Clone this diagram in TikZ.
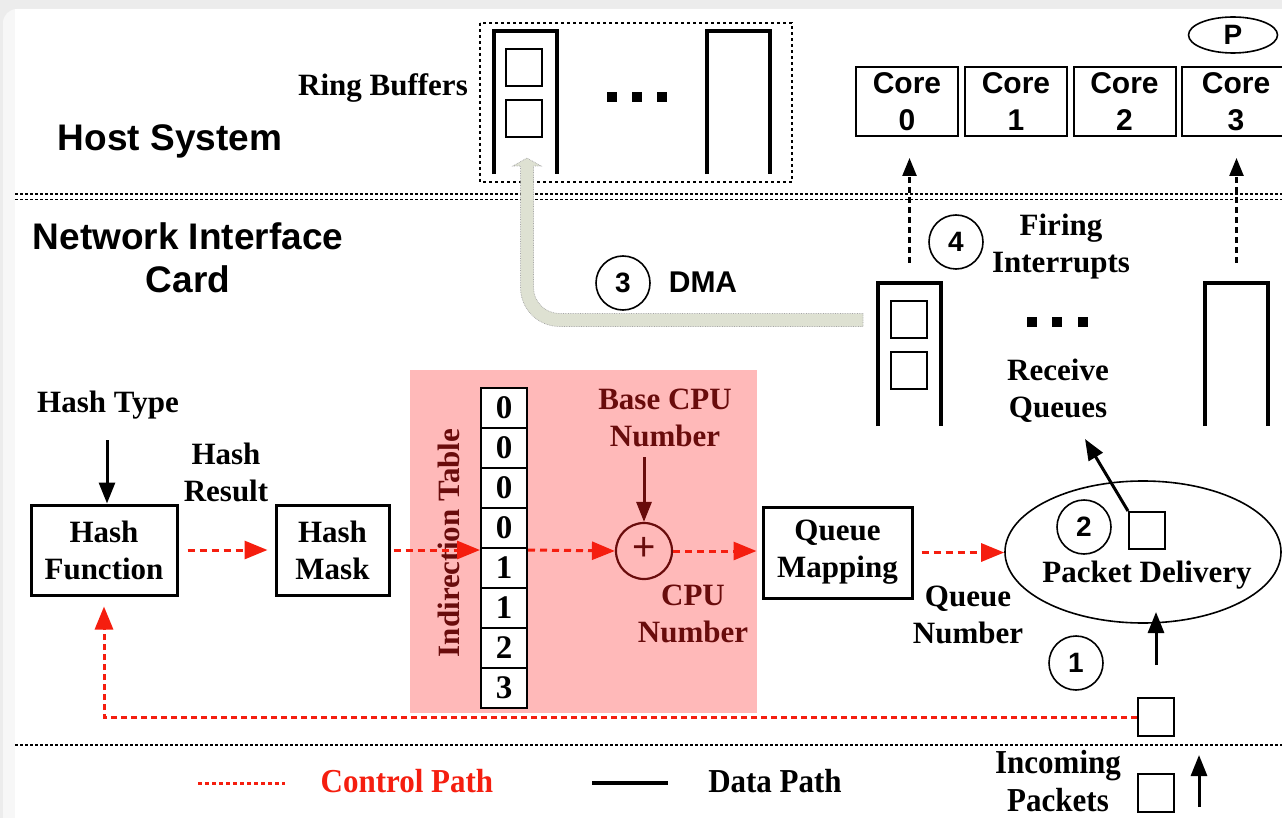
\documentclass[tikz,border=0pt]{standalone}
\usepackage{fontspec}
\setmainfont{Liberation Serif}
\setsansfont{Liberation Sans}
\usetikzlibrary{shapes.geometric,arrows.meta}
\definecolor{ctrlred}{RGB}{245,30,15}
\definecolor{darkred}{RGB}{105,12,12}
\definecolor{pinkbg}{RGB}{255,185,185}
\definecolor{dmafill}{RGB}{222,225,210}
\definecolor{bggray}{RGB}{236,236,236}
\definecolor{cardedge}{RGB}{247,247,247}
\begin{document}
\begin{tikzpicture}[x=1pt,y=-1pt,
  ser/.style={font=\bfseries\fontsize{31}{37}\selectfont, align=center, inner sep=0pt},
  sertall/.style={font=\bfseries\fontsize{31}{36}\selectfont, align=center, inner sep=0pt, yscale=1.08},
  sansL/.style={font=\sffamily\bfseries\fontsize{37}{43}\selectfont, align=center, inner sep=0pt},
  sansM/.style={font=\sffamily\bfseries\fontsize{30}{37}\selectfont, align=center, inner sep=0pt},
  blk/.style={draw, line width=3pt, align=center, inner sep=0pt, font=\bfseries\fontsize{31}{37}\selectfont},
  corebox/.style={draw, line width=2pt, minimum width=102pt, minimum height=69pt, sansM},
  circ/.style={circle, draw, line width=1.6pt, minimum size=54pt, inner sep=0pt, font=\sffamily\bfseries\fontsize{28}{28}\selectfont},
  pkt/.style={draw, line width=2pt, minimum width=36pt, minimum height=37pt, inner sep=0pt},
  cell/.style={draw, line width=2pt, minimum width=46pt, minimum height=40pt, inner sep=0pt, font=\bfseries\fontsize{33}{33}\selectfont},
  queue/.style={minimum width=63pt, minimum height=143pt, inner sep=0pt},
  qline/.style={line width=3.5pt, line join=miter},
  sepline/.style={line width=1.5pt, dash pattern=on 3pt off 2pt},
  data/.style={line width=3pt, -{Triangle[length=21pt,width=16pt]}},
  ctrl/.style={ctrlred, line width=3pt, dash pattern=on 7pt off 5pt, -{Triangle[length=23pt,width=18pt]}},
  intr/.style={line width=2.5pt, dash pattern=on 6pt off 4pt, -{Triangle[length=18pt,width=14pt]}},
  dr/.style={darkred, line width=3pt, -{Triangle[length=20pt,width=15pt]}}
]
\useasboundingbox (0,0) rectangle (1282,818);
\clip (0,0) rectangle (1282,818);
% background card
\fill[bggray] (0,0) rectangle (1282,818);
\fill[cardedge, rounded corners=14pt] (3,9) rectangle (1320,850);
\fill[white] (15,9) rectangle (1320,850);

% separators
\draw[sepline] (15,194) -- (1282,194);
\draw[sepline] (15,199.5) -- (1282,199.5);
\draw[sepline] (15,745) -- (1282,745);

% section titles
\node[sansL] (host) at (170,141) {Host System};
\node[sansL] (nic) at (188,258) {Network Interface\\Card};

% ring buffers
\node[ser] (rblabel) at (383,88) {Ring Buffers};
\draw[line width=2pt, dash pattern=on 3pt off 3pt] (480,23) rectangle (792,182);
\node[queue] (rb1) at (525.5,102.5) {};
\node[queue] (rb2) at (738.5,102.5) {};
\draw[qline] (rb1.south west) -- (rb1.north west) -- (rb1.north east) -- (rb1.south east);
\draw[qline] (rb2.south west) -- (rb2.north west) -- (rb2.north east) -- (rb2.south east);
\node[pkt] (rbs1) at (524,68) {};
\node[pkt] (rbs2) at (524,119) {};
\foreach \x in {612,637,662} \fill (\x-5,92) rectangle (\x+5,102);

% cores
\node[corebox] (core0) at (907,101.5) {Core\\0};
\node[corebox] (core1) at (1016,101.5) {Core\\1};
\node[corebox] (core2) at (1124.5,101.5) {Core\\2};
\node[corebox, minimum width=108pt] (core3) at (1236,101.5) {Core\\3};
\node[ellipse, draw, line width=1.6pt, minimum width=89pt, minimum height=36pt, inner sep=0pt, font=\sffamily\bfseries\fontsize{28}{28}\selectfont] (P) at (1233,35) {P};

% receive queues
\node[queue] (rq1) at (909.5,354.5) {};
\node[queue] (rq2) at (1236.5,354.5) {};
\draw[qline] (rq1.south west) -- (rq1.north west) -- (rq1.north east) -- (rq1.south east);
\draw[qline] (rq2.south west) -- (rq2.north west) -- (rq2.north east) -- (rq2.south east);
\node[pkt] (rqs1) at (908.5,319.5) {};
\node[pkt] (rqs2) at (908.5,370.5) {};
\foreach \x in {1032,1057,1083} \fill (\x-5,317) rectangle (\x+5,327);
\node[ser] (rql) at (1058,391) {Receive\\Queues};

% interrupts
\draw[intr, shorten >=21pt] ([yshift=20pt]rq1.north) -- (rq1.north |- core0.south);
\draw[intr, shorten >=21pt] ([yshift=20pt]rq2.north) -- (rq2.north |- core3.south);
\node[circ] (c4) at (956,242) {4};
\node[ser] (fire) at (1061,247) {Firing\\Interrupts};

% DMA
\filldraw[fill=dmafill, draw=gray!70, line width=0.7pt, densely dotted]
  (863,313.5) [rounded corners=26pt] -- (533.5,313.5) [sharp corners] -- (533.5,166) -- (541,166) -- (527,158) -- (513,166) -- (520.5,166) [rounded corners=39pt] -- (520.5,326.5) [sharp corners] -- (863,326.5) -- cycle;
\node[circ] (c3) at (623,283) {3};
\node[sansM] (dma) at (703,282) {DMA};

% pink area
\fill[pinkbg] (410,370) rectangle (757,713);
\node[ser, text=darkred, rotate=90] (itl) at (449,543) {Indirection Table};
\foreach \v [count=\i from 0] in {0,0,0,0,1,1,2,3}
  \node[cell, fill=white] (t\i) at (504,408+40*\i) {\v};
\node[circle, draw=darkred, line width=2.2pt, minimum size=56pt, inner sep=0pt] (plus) at (644,551) {};
\node[text=darkred, font=\sffamily\fontsize{40}{40}\selectfont, inner sep=0pt] (plussign) at (644,549) {+};
\node[ser, text=darkred] (bcpu) at (665,418) {Base CPU\\Number};
\coordinate (bc) at (644,457);
\draw[dr] (bc) -- (plus.north);
\node[ser, text=darkred] (cpun) at (693,614) {CPU\\Number};

% hash chain
\node[ser] (htype) at (108,405) {Hash Type};
\node[blk, minimum width=146pt, minimum height=90pt] (hf) at (104,550) {Hash\\Function};
\coordinate (ht) at (107,440);
\draw[data] (ht) -- (ht |- hf.north);
\node[ser] (hres) at (226,472) {Hash\\Result};
\node[blk, minimum width=113pt, minimum height=90pt] (hm) at (332.5,550) {Hash\\Mask};
\node[blk, minimum width=149pt, minimum height=91pt] (qm) at (837.5,552.5) {Queue\\Mapping};

\draw[ctrl, shorten <=9pt, shorten >=7pt] (hf.east) -- (hm.west);
\draw[ctrl, shorten <=3pt] (hm.east) -- (hm.east -| t0.west);
\draw[ctrl] (hm.east -| t0.east) -- (plus.west);
\draw[ctrl, shorten >=5pt] (plus.east) -- (plus.east -| qm.west);

% packet delivery
\node[ellipse, draw, line width=1.6pt, minimum width=276pt, minimum height=142pt, inner sep=0pt] (pd) at (1143,552) {};
\node[ser] (pdt) at (1147,575) {Packet Delivery};
\node[circ] (c2) at (1084,527) {2};
\node[pkt] (dsq) at (1147,530.5) {};
\coordinate (rqtip) at (1085,439);
\draw[data] (dsq.north west) -- (rqtip);
\draw[ctrl, shorten <=8pt] (qm.east) -- (qm.east -| pd.west);
\node[ser] (qn) at (968,615) {Queue\\Number};

\node[circ] (c1) at (1076,663) {1};
\coordinate (in1) at (1156,665);
\coordinate (pdin) at (1156,612);
\draw[data] (in1) -- (pdin);

% incoming packets
\node[pkt, minimum height=38pt] (pk1) at (1156,717) {};
\node[pkt, minimum height=38pt] (pk2) at (1156,793) {};
\coordinate (in2a) at (1199,807);
\coordinate (in2b) at (1199,755);
\draw[data] (in2a) -- (in2b);
\node[sertall] (inc) at (1058,781) {Incoming\\Packets};

% feedback control path
\draw[ctrlred, line width=3pt, dash pattern=on 6pt off 4pt, -{Triangle[length=23pt,width=18pt]}]
  (pk1.west) -| ([yshift=-10pt]hf.south);

% legend
\coordinate (l1a) at (198,783);
\coordinate (l1b) at (285,783);
\draw[ctrlred, line width=3pt, dash pattern=on 4pt off 3pt] (l1a) -- (l1b);
\node[sertall, text=ctrlred] (lctrl) at (407,781) {Control Path};
\coordinate (l2a) at (592,783);
\coordinate (l2b) at (668,783);
\draw[line width=3.5pt] (l2a) -- (l2b);
\node[sertall] (ldata) at (775,781) {Data Path};
\end{tikzpicture}
\end{document}
